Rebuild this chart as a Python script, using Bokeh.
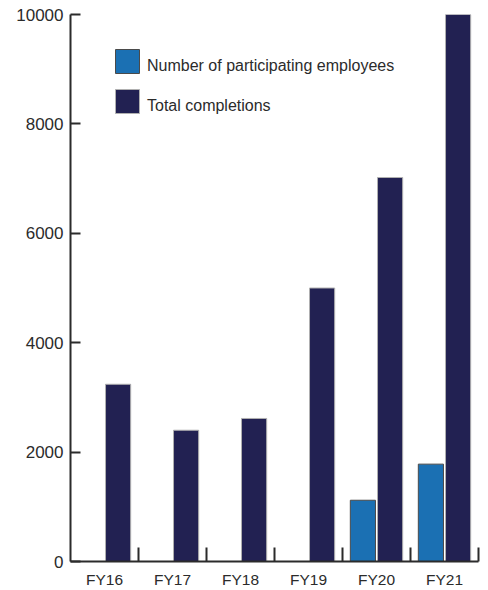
from bokeh.plotting import figure
from bokeh.models import ColumnDataSource, FixedTicker, Legend, LegendItem, Range1d
from bokeh.embed import file_html
from bokeh.resources import INLINE

categories = ["FY16", "FY17", "FY18", "FY19", "FY20", "FY21"]
employees = [None, None, None, None, 1120, 1780]
completions = [3240, 2400, 2615, 5000, 7020, 10000]
y_ticks = [0, 2000, 4000, 6000, 8000, 10000]
series_names = ["Number of participating employees", "Total completions"]

BLUE = "#1b70b3"
NAVY = "#222152"
INK = "#2b2b2b"
FONT = "Liberation Sans"

centers = [i + 0.5 for i in range(len(categories))]
emp_src = ColumnDataSource(dict(
    x=[c - 0.2 for c, v in zip(centers, employees) if v is not None],
    top=[v for v in employees if v is not None],
))
comp_src = ColumnDataSource(dict(x=[c + 0.2 for c in centers], top=completions))

p = figure(width=488, height=590, output_backend="svg", toolbar_location=None,
           x_range=Range1d(0, len(categories)), y_range=Range1d(0, 10000),
           min_border_left=70, min_border_right=10, min_border_top=14, min_border_bottom=27)
p.outline_line_color = None
p.xgrid.grid_line_color = None
p.ygrid.grid_line_color = None
p.background_fill_color = None
p.border_fill_color = "white"

r1 = p.vbar(x="x", top="top", width=0.37, bottom=0, source=emp_src,
            fill_color=BLUE, line_color="#4a4a4a", line_width=1)
r2 = p.vbar(x="x", top="top", width=0.37, bottom=0, source=comp_src,
            fill_color=NAVY, line_color="#b0b0b0", line_width=1)
# invisible placeholder renderer used only to carry the legend labels
blank = p.vbar(x=[], top=[], width=0.37, fill_alpha=0, line_alpha=0)

# x axis: labels at centers, ticks at category boundaries
xax = p.xaxis[0]
xax.ticker = FixedTicker(ticks=centers, minor_ticks=list(range(1, len(categories) + 1)))
xax.major_label_overrides = {c: lab for c, lab in zip(centers, categories)}
xax.major_tick_in = 0
xax.major_tick_out = 0
xax.minor_tick_in = 14
xax.minor_tick_out = 0
xax.minor_tick_line_color = INK
xax.minor_tick_line_width = 2
xax.axis_line_color = INK
xax.axis_line_width = 2
xax.major_label_text_font = FONT
xax.major_label_text_font_size = "15.5px"
xax.major_label_text_color = INK
xax.major_label_standoff = 9

yax = p.yaxis[0]
yax.ticker = FixedTicker(ticks=y_ticks)
yax.major_tick_in = 10
yax.major_tick_out = 0
yax.minor_tick_line_color = None
yax.major_tick_line_color = INK
yax.major_tick_line_width = 2
yax.axis_line_color = INK
yax.axis_line_width = 2
yax.major_label_text_font = FONT
yax.major_label_text_font_size = "17px"
yax.major_label_text_color = INK
yax.major_label_standoff = 7

def plain_legend(**kw):
    lg = Legend(padding=0, margin=0, border_line_color=None, background_fill_alpha=0,
                label_text_font=FONT, label_text_font_size="16px", label_text_color=INK, **kw)
    return lg

# swatches
swatches = plain_legend(items=[LegendItem(label=" ", renderers=[r1]),
                               LegendItem(label=" ", renderers=[r2])],
                        location=(42, 445), glyph_width=30, glyph_height=30,
                        label_height=30, spacing=10, label_standoff=0)
# labels (sit a little lower than the swatch centres, as in the original)
labels = plain_legend(items=[LegendItem(label=series_names[0], renderers=[blank]),
                             LegendItem(label=series_names[1], renderers=[blank])],
                      location=(45, 445), glyph_width=24, glyph_height=20,
                      label_height=20, spacing=20, label_standoff=8)
p.add_layout(swatches)
p.add_layout(labels)

open("out.html", "w").write(file_html(p, INLINE))
